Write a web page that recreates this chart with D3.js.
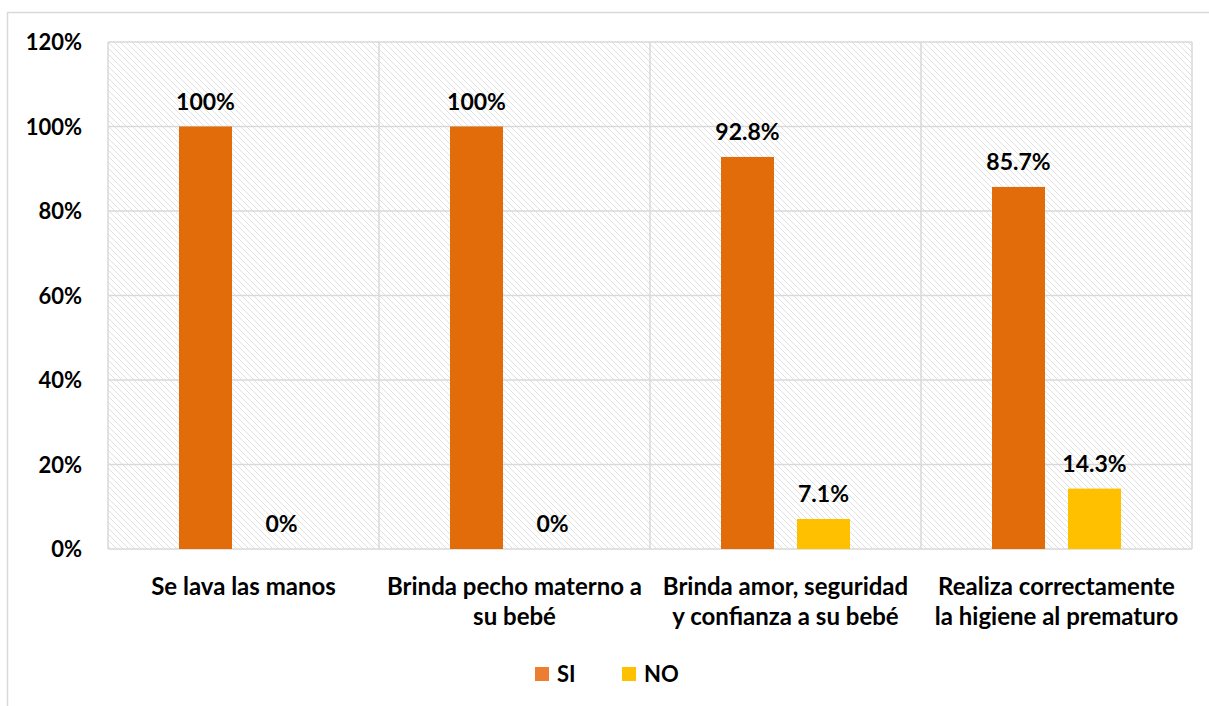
<!DOCTYPE html>
<html>
<head>
<meta charset="utf-8">
<script src="https://cdn.jsdelivr.net/npm/d3@7"></script>
<style>
  body { margin: 0; background: #fff; }
  svg text { font-family: Lato, "Open Sans", sans-serif; font-weight: bold; fill: #000; }
</style>
</head>
<body>
<svg id="chart" width="1209" height="706"></svg>
<script>
// data
var categories = [
  ["Se lava las manos"],
  ["Brinda pecho materno a", "su bebé"],
  ["Brinda amor, seguridad", "y confianza a su bebé"],
  ["Realiza correctamente", "la higiene al prematuro"]
];
var seriesNames = ["SI", "NO"];
var siValues = [100, 100, 92.8, 85.7];
var noValues = [0, 0, 7.1, 14.3];
var siLabels = ["100%", "100%", "92.8%", "85.7%"];
var noLabels = ["0%", "0%", "7.1%", "14.3%"];
var yTicks = [0, 20, 40, 60, 80, 100, 120];

var barColors = { SI: "#e36c0a", NO: "#ffc000" };
var legendColors = { SI: "#ed7d31", NO: "#ffc000" };
var gridColor = "#d9d9d9";

var svg = d3.select("#chart");
// plot area edges (note: "top" is reserved on window, so prefixed names)
var plotLeft = 108, plotRight = 1192, plotTop = 42, plotBottom = 549;

// hatch fill for the plot area
var defs = svg.append("defs");
var pat = defs.append("pattern")
  .attr("id", "hatch")
  .attr("patternUnits", "userSpaceOnUse")
  .attr("width", 6)
  .attr("height", 6);
pat.append("path")
  .attr("d", "M-1,-1 L7,7 M-1,5 L1,7 M5,-1 L7,1")
  .style("stroke", "#dedede")
  .style("stroke-width", 0.9);

// outer chart border
svg.append("rect")
  .attr("x", 7.5).attr("y", 12.5)
  .attr("width", 1300).attr("height", 800)
  .style("fill", "none")
  .style("stroke", gridColor)
  .style("stroke-width", 1.5);

var catIdx = d3.range(categories.length);
var x = d3.scaleBand().domain(catIdx).range([plotLeft, plotRight]);
var xSub = d3.scaleBand().domain(seriesNames).range([71, 200]).paddingInner(0.3026);
var y = d3.scaleLinear().domain([0, 120]).range([plotBottom, plotTop]);

svg.append("rect")
  .attr("x", plotLeft).attr("y", plotTop)
  .attr("width", plotRight - plotLeft).attr("height", plotBottom - plotTop)
  .style("fill", "url(#hatch)");

// horizontal gridlines
svg.append("g").selectAll("line").data(yTicks).enter().append("line")
  .attr("x1", plotLeft).attr("x2", plotRight)
  .attr("y1", function (d) { return y(d); })
  .attr("y2", function (d) { return y(d); })
  .style("stroke", gridColor)
  .style("stroke-width", 1.5);

// vertical gridlines at category borders
var vLines = catIdx.concat([categories.length]);
svg.append("g").selectAll("line").data(vLines).enter().append("line")
  .attr("x1", function (d) { return d < categories.length ? x(d) : x(d - 1) + x.bandwidth(); })
  .attr("x2", function (d) { return d < categories.length ? x(d) : x(d - 1) + x.bandwidth(); })
  .attr("y1", plotTop).attr("y2", plotBottom)
  .style("stroke", gridColor)
  .style("stroke-width", 1.5);

// y axis labels
svg.append("g").selectAll("text").data(yTicks).enter().append("text")
  .attr("x", 82)
  .attr("y", function (d) { return y(d) + 8; })
  .attr("text-anchor", "end")
  .style("font-size", "22px")
  .text(function (d) { return d + "%"; });

// bars
var barData = [];
catIdx.forEach(function (i) {
  barData.push({ cat: i, s: "SI", v: siValues[i], label: siLabels[i] });
  barData.push({ cat: i, s: "NO", v: noValues[i], label: noLabels[i] });
});

svg.append("g").selectAll("rect").data(barData).enter().append("rect")
  .attr("x", function (d) { return x(d.cat) + xSub(d.s); })
  .attr("width", xSub.bandwidth())
  .attr("y", function (d) { return y(d.v); })
  .attr("height", function (d) { return plotBottom - y(d.v); })
  .style("fill", function (d) { return barColors[d.s]; });

svg.append("g").selectAll("text").data(barData).enter().append("text")
  .attr("x", function (d) { return x(d.cat) + xSub(d.s) + xSub.bandwidth() / 2; })
  .attr("y", function (d) { return y(d.v) - 17; })
  .attr("text-anchor", "middle")
  .style("font-size", "23px")
  .text(function (d) { return d.label; });

// category labels
var catText = svg.append("g").selectAll("text").data(catIdx).enter().append("text")
  .attr("text-anchor", "middle")
  .style("font-size", "24px");
catText.each(function (i) {
  var t = d3.select(this);
  categories[i].forEach(function (line, k) {
    t.append("tspan")
      .attr("x", x(i) + x.bandwidth() / 2)
      .attr("y", 595 + k * 30)
      .text(line);
  });
});

// legend
var legendX = { SI: 535, NO: 622 };
var leg = svg.append("g").selectAll("g").data(seriesNames).enter().append("g");
leg.append("rect")
  .attr("x", function (d) { return legendX[d]; })
  .attr("y", 667)
  .attr("width", 14).attr("height", 14)
  .style("fill", function (d) { return legendColors[d]; });
leg.append("text")
  .attr("x", function (d) { return legendX[d] + 22; })
  .attr("y", 682)
  .style("font-size", "22px")
  .text(function (d) { return d; });
</script>
</body>
</html>
